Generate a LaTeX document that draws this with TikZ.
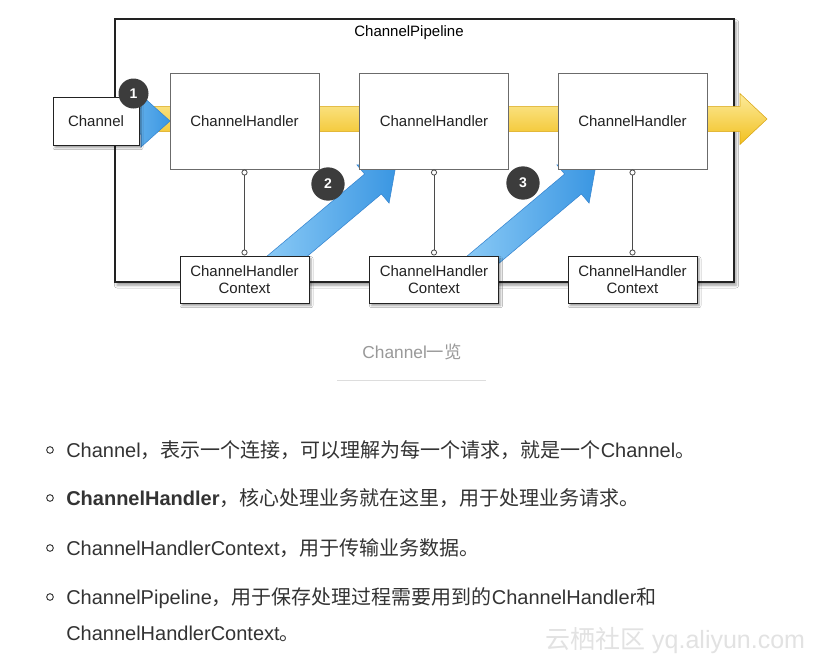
\documentclass[tikz,border=0pt]{standalone}
\usepackage{fontspec}
\setmainfont{Liberation Sans}
\newfontfamily\cjk{Noto Sans CJK SC}
\usepackage{tikz}
\usetikzlibrary{arrows.meta,calc,shadows.blur}

\definecolor{pipeline}{HTML}{222222}
\definecolor{handlerline}{HTML}{6B6B6B}
\definecolor{nodetext}{HTML}{222222}
\definecolor{flowyellowtop}{HTML}{FCEB9C}
\definecolor{flowyellowbot}{HTML}{F2C01E}
\definecolor{flowyellowedge}{HTML}{D9A514}
\definecolor{flowbluelight}{HTML}{8CCBF6}
\definecolor{flowbluedark}{HTML}{3A96E2}
\definecolor{flowblueedge}{HTML}{3584CF}
\definecolor{stepgrey}{HTML}{3C3C3C}
\definecolor{bodytext}{HTML}{333333}
\definecolor{captiongrey}{HTML}{999999}
\definecolor{rulegrey}{HTML}{DDDDDD}
\definecolor{markgrey}{HTML}{E2E2E2}

\newcommand{\zh}[1]{{\cjk #1}}
% fat arrow: style, start, neck, tip, shaft half width, head half width
\newcommand{\fatarrow}[6]{%
  \path[#1] ($(#2)!#5!90:(#3)$) -- ($(#3)!#5!-90:(#2)$) -- ($(#3)!#6!-90:(#2)$) -- (#4)
    -- ($(#3)!#6!90:(#2)$) -- ($(#3)!#5!90:(#2)$) -- ($(#2)!#5!-90:(#3)$) -- cycle;}

\begin{document}
\begin{tikzpicture}[
      x=0.75pt, y=-0.75pt,
      font=\fontsize{11.25}{12.75}\selectfont,
      pipe/.style={draw=pipeline, line width=0.8pt, fill=white, inner sep=0pt,
                   minimum width=464.25pt, minimum height=197.25pt,
                   blur shadow={shadow xshift=1.5pt, shadow yshift=-2.5pt, shadow blur radius=2pt}},
      handler/.style={draw=handlerline, line width=0.75pt, fill=white, inner sep=0pt,
                      minimum width=111.75pt, minimum height=72pt, text=nodetext},
      ctxbox/.style={draw=pipeline, line width=0.75pt, fill=white, inner sep=0pt, align=center,
                     minimum width=96.75pt, minimum height=35.25pt, text=nodetext,
                     blur shadow={shadow xshift=1.5pt, shadow yshift=-2pt, shadow blur radius=1.5pt}},
      chanbox/.style={ctxbox, minimum width=64.5pt, minimum height=36pt},
      stepnum/.style={circle, fill=stepgrey, text=white, inner sep=0pt, minimum size=25pt,
                      font=\bfseries\fontsize{10.5}{10.5}\selectfont},
      link/.style={draw=handlerline!70!black, line width=0.6pt,
                   {Circle[open,length=4.5pt]}-{Circle[open,length=4.5pt]}},
      yellowflow/.style={shade, top color=flowyellowtop, bottom color=flowyellowbot,
                         draw=flowyellowedge, line width=0.4pt},
      blueflow/.style={shade, left color=flowbluelight, right color=flowbluedark,
                       draw=flowblueedge, line width=0.4pt},
      bul/.style={circle, draw=bodytext, line width=0.7pt, minimum size=5pt, inner sep=0pt},
      item/.style={anchor=base west, inner sep=0pt, text=bodytext, font=\fontsize{15}{22}\selectfont},
    ]
    \path[fill=white, use as bounding box] (0,0) rectangle (826,665);

    % pipeline frame
    \node[pipe] (pl) at (424.5,150.5) {};
    \node (pltitle) at (409,33) {ChannelPipeline};

    % flow arrows (behind the boxes)
    \coordinate (ys) at (136,119);   \coordinate (yn) at (740,119);   \coordinate (yt) at (767,119);
    \fatarrow{yellowflow}{ys}{yn}{yt}{9.4pt}{19.1pt}
    \coordinate (b1s) at (100,121);  \coordinate (b1n) at (141,121);  \coordinate (b1t) at (170,121);
    \fatarrow{blueflow}{b1s}{b1n}{b1t}{9.75pt}{19.5pt}
    \coordinate (b2s) at (269.7,270.9); \coordinate (b2n) at (373,184); \coordinate (b2t) at (396,164.7);
    \fatarrow{blueflow}{b2s}{b2n}{b2t}{9.75pt}{18.75pt}
    \coordinate (b3s) at (469.7,270.9); \coordinate (b3n) at (573,184); \coordinate (b3t) at (596,164.7);
    \fatarrow{blueflow}{b3s}{b3n}{b3t}{9.75pt}{18.75pt}

    % handlers and contexts
    \node[handler] (h1) at (244.5,121) {ChannelHandler};
    \node[handler] (h2) at (434,121)   {ChannelHandler};
    \node[handler] (h3) at (632.5,121) {ChannelHandler};
    \node[chanbox] (ch) at (96,121)    {Channel};
    \node[ctxbox]  (c1) at (244.5,279.5) {ChannelHandler\\Context};
    \node[ctxbox]  (c2) at (434,279.5)   {ChannelHandler\\Context};
    \node[ctxbox]  (c3) at (632.5,279.5) {ChannelHandler\\Context};

    \draw[link] (h1.south) -- (c1.north);
    \draw[link] (h2.south) -- (c2.north);
    \draw[link] (h3.south) -- (c3.north);

    % step markers
    \node[stepnum, minimum size=22.5pt] (n1) at (133.5,93.5) {1};
    \node[stepnum] (n2) at (328,184) {2};
    \node[stepnum] (n3) at (523,183) {3};

    % caption
    \node[text=captiongrey, font=\fontsize{13}{15}\selectfont] (cap) at (412,352) {Channel\zh{一览}};
    \draw[rulegrey, line width=0.75pt] (337,380) -- (486,380);

    % list
    \node[bul] (d1) at (50,450) {};
    \node[item] (t1) at (66,457) {Channel\zh{，表示一个连接，可以理解为每一个请求，就是一个}Channel\zh{。}};
    \node[bul] (d2) at (50,498) {};
    \node[item] (t2) at (66,505) {\textbf{ChannelHandler}\zh{，核心处理业务就在这里，用于处理业务请求。}};
    \node[bul] (d3) at (50,548) {};
    \node[item] (t3) at (66,555) {ChannelHandlerContext\zh{，用于传输业务数据。}};
    \node[bul] (d4) at (50,597) {};
    \node[item] (t4) at (66,604) {ChannelPipeline\zh{，用于保存处理过程需要用到的}ChannelHandler\zh{和}};
    \node[item] (t5) at (66,640) {ChannelHandlerContext\zh{。}};

    % watermark
    \node[anchor=base west, inner sep=0pt, text=markgrey, font=\fontsize{18.75}{20}\selectfont]
      (mark) at (545,648) {\zh{云栖社区} yq.aliyun.com};
  \end{tikzpicture}
\end{document}
